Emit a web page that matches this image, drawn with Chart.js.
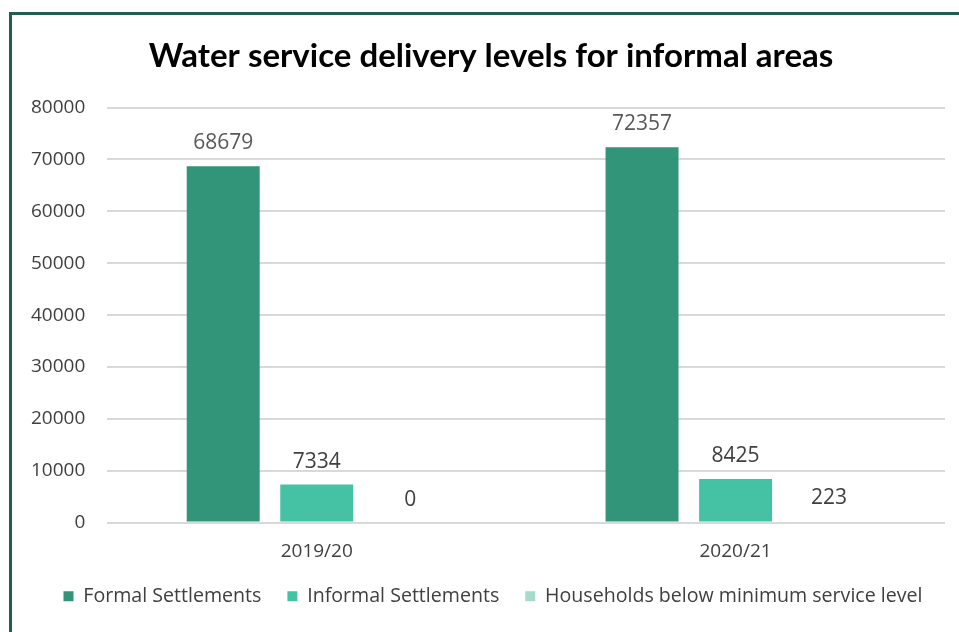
<!DOCTYPE html>
<html>
<head>
<meta charset="utf-8">
<script src="https://cdn.jsdelivr.net/npm/chart.js@4/dist/chart.umd.min.js"></script>
<style>
  html, body { margin: 0; padding: 0; background: #ffffff; overflow: hidden; }
  #wrap { position: relative; width: 959px; height: 632px; }
  #frame {
    position: absolute; left: 9px; top: 12px; width: 2000px; height: 2000px;
    border-top: 3px solid #1f5f4f; border-left: 3px solid #1f5f4f;
    pointer-events: none; box-sizing: border-box;
  }
  canvas { position: absolute; left: 0; top: 0; }
</style>
</head>
<body>
<div id="wrap">
  <canvas id="chart" width="959" height="632"></canvas>
  <div id="frame"></div>
</div>
<script>
// Financial years on the category axis
const years = ['2019/20', '2020/21'];

// Households served, per settlement type
const formalSettlements = [68679, 72357];
const informalSettlements = [7334, 8425];
const belowMinimumService = [0, 223];

// Value axis ticks
const yTicks = [0, 10000, 20000, 30000, 40000, 50000, 60000, 70000, 80000];

const seriesNames = ['Formal Settlements', 'Informal Settlements', 'Households below minimum service level'];
const seriesColors = ['#329479', '#45c2a4', '#a6dbc8'];
const labelColors = ['#595959', '#404040', '#404040'];

const FONT = "'Open Sans', 'DejaVu Sans', sans-serif";

// Writes each bar's value just above it
const valueLabels = {
  id: 'valueLabels',
  afterDatasetsDraw(chart) {
    const ctx = chart.ctx;
    ctx.save();
    ctx.font = '21px ' + FONT;
    ctx.textAlign = 'center';
    ctx.textBaseline = 'middle';
    chart.data.datasets.forEach((ds, i) => {
      const meta = chart.getDatasetMeta(i);
      meta.data.forEach((bar, j) => {
        ctx.fillStyle = labelColors[i];
        ctx.fillText(String(ds.data[j]), bar.x, bar.y - 23);
      });
    });
    ctx.restore();
  }
};

// Moves the title and legend boxes a little off their default spots
const boxShift = {
  id: 'boxShift',
  afterLayout(chart) {
    const t = chart.titleBlock;
    if (t) { t.left += 14; t.right += 14; }
    const l = chart.legend;
    if (l) { l.left += 16; l.right += 16; l.top -= 13; l.bottom -= 13; }
  }
};

new Chart(document.getElementById('chart'), {
  type: 'bar',
  data: {
    labels: years,
    datasets: [
      { label: seriesNames[0], data: formalSettlements, backgroundColor: seriesColors[0] },
      { label: seriesNames[1], data: informalSettlements, backgroundColor: seriesColors[1] },
      { label: seriesNames[2], data: belowMinimumService, backgroundColor: seriesColors[2] }
    ]
  },
  options: {
    responsive: false,
    animation: false,
    devicePixelRatio: 1,
    categoryPercentage: 0.67,
    barPercentage: 0.78,
    layout: { padding: { left: 9, right: 14, top: 0, bottom: 3 } },
    plugins: {
      title: {
        display: true,
        text: 'Water service delivery levels for informal areas',
        color: '#000000',
        font: { family: "Lato, 'Open Sans', sans-serif", size: 33, weight: 'bold' },
        padding: { top: 37, bottom: 31 }
      },
      legend: {
        position: 'bottom',
        labels: {
          boxWidth: 10,
          boxHeight: 10,
          padding: 26,
          color: '#404040',
          font: { family: FONT, size: 19.6 }
        }
      },
      tooltip: { enabled: false }
    },
    scales: {
      x: {
        grid: { display: false },
        border: { display: false },
        ticks: { color: '#404040', font: { family: FONT, size: 19 }, padding: 10 }
      },
      y: {
        min: 0,
        max: 80000,
        afterBuildTicks(axis) { axis.ticks = yTicks.map(v => ({ value: v })); },
        grid: { color: '#d9d9d9', lineWidth: 2, drawTicks: false },
        border: { display: false },
        ticks: {
          color: '#404040',
          font: { family: FONT, size: 19 },
          padding: 22,
          callback: (v) => String(v)
        }
      }
    }
  },
  plugins: [valueLabels, boxShift]
});
</script>
</body>
</html>
